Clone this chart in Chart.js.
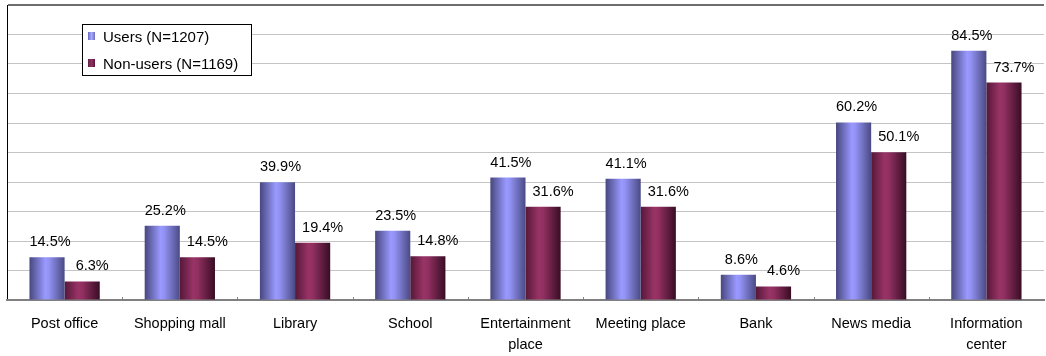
<!DOCTYPE html>
<html>
<head>
<meta charset="utf-8">
<script src="https://cdn.jsdelivr.net/npm/chart.js@4.4.1/dist/chart.umd.min.js"></script>
<style>
    body { margin: 0; background: #fff; }
    #wrap { position: relative; width: 1046px; height: 356px; }
    #legend {
        position: absolute; left: 82px; top: 24px; width: 168px; height: 50px;
        border: 1px solid #000; background: #fff;
        font-family: "Liberation Sans", Arial, sans-serif; font-size: 15px; color: #000;
    }
    #legend .row { position: absolute; left: 5px; height: 27px; line-height: 27px; white-space: nowrap; }
    #legend .mark { position: absolute; left: 0; top: 9px; width: 7px; height: 8px; }
    #legend .txt { position: absolute; left: 15px; top: 0; }
</style>
</head>
<body>
<div id="wrap">
    <canvas id="graficaUso"></canvas>
    <div id="legend"></div>
</div>
<script>
const categorias = ['Post office', 'Shopping mall', 'Library', 'School', ['Entertainment', 'place'],
    'Meeting place', 'Bank', 'News media', ['Information', 'center']];
const usuarios = [14.5, 25.2, 39.9, 23.5, 41.5, 41.1, 8.6, 60.2, 84.5];
const noUsuarios = [6.3, 14.5, 19.4, 14.8, 31.6, 31.6, 4.6, 50.1, 73.7];
const nombresSeries = ['Users (N=1207)', 'Non-users (N=1169)'];
const marcasY = [0, 10, 20, 30, 40, 50, 60, 70, 80, 90, 100];

const fuente = '"Liberation Sans", Arial, sans-serif';

// colour stops for the shaded bars, left edge -> highlight -> right edge
const degradados = [
    [[0, '#47477f'], [0.45, '#9999ff'], [0.55, '#9393f5'], [1, '#4a4a84']],
    [[0, '#551838'], [0.38, '#993366'], [0.5, '#923062'], [1, '#380d24']]
];

// shade every bar across its width
const sombreado = {
    id: 'sombreado',
    beforeDatasetDraw(grafica, args) {
        const ctx = grafica.ctx;
        const paradas = degradados[args.index];
        args.meta.data.forEach(barra => {
            const { x, width } = barra.getProps(['x', 'width'], true);
            const g = ctx.createLinearGradient(x - width / 2, 0, x + width / 2, 0);
            paradas.forEach(p => g.addColorStop(p[0], p[1]));
            barra.options = Object.assign({}, barra.options, { backgroundColor: g });
        });
    }
};

// percentage above each bar, plus the small category ticks on the axis
const etiquetas = {
    id: 'etiquetas',
    afterDatasetsDraw(grafica, args, opciones) {
        const ctx = grafica.ctx;
        ctx.save();
        ctx.font = '14.5px ' + fuente;
        ctx.fillStyle = '#000';
        ctx.textAlign = 'center';
        ctx.textBaseline = 'alphabetic';
        grafica.data.datasets.forEach((ds, i) => {
            const meta = grafica.getDatasetMeta(i);
            meta.data.forEach((barra, j) => {
                const texto = ds.data[j].toFixed(1) + '%';
                ctx.fillText(texto, barra.x + opciones.desplazamiento[i], barra.y - 11);
            });
        });

        const ejeX = grafica.scales.x;
        ctx.strokeStyle = '#808080';
        ctx.lineWidth = 1;
        for (let k = 1; k < categorias.length; k++) {
            const px = Math.round(ejeX.getPixelForValue(k - 0.5)) + 0.5;
            ctx.beginPath();
            ctx.moveTo(px, ejeX.top - 3);
            ctx.lineTo(px, ejeX.top);
            ctx.stroke();
        }
        ctx.restore();
    }
};

const grafica = new Chart(document.getElementById('graficaUso'), {
    type: 'bar',
    data: {
        labels: categorias,
        datasets: [{
            label: nombresSeries[0],
            data: usuarios,
            backgroundColor: '#9999ff',
            barPercentage: 1,
            categoryPercentage: 0.61
        }, {
            label: nombresSeries[1],
            data: noUsuarios,
            backgroundColor: '#993366',
            barPercentage: 1,
            categoryPercentage: 0.61
        }]
    },
    options: {
        responsive: true,
        maintainAspectRatio: false,
        animation: false,
        layout: {
            padding: { left: 7, top: 5, right: 2, bottom: 0 }
        },
        plugins: {
            legend: { display: false },
            tooltip: { enabled: false },
            etiquetas: { desplazamiento: [3, 10] }
        },
        scales: {
            y: {
                min: marcasY[0],
                max: marcasY[marcasY.length - 1],
                afterBuildTicks: eje => { eje.ticks = marcasY.map(v => ({ value: v })); },
                ticks: { display: false },
                grid: {
                    drawTicks: false,
                    color: c => c.tick && c.tick.value === 100 ? '#6e6e6e' : '#c4c4c4',
                    lineWidth: c => c.tick && c.tick.value === 100 ? 2 : 1
                },
                border: { color: '#000', width: 1 }
            },
            x: {
                afterFit: eje => { eje.height = 56; },
                grid: { display: false, drawTicks: false },
                border: { color: '#808080', width: 2 },
                ticks: {
                    color: '#000',
                    padding: 13,
                    maxRotation: 0,
                    autoSkip: false,
                    font: { family: fuente, size: 14.5, lineHeight: 1.47 }
                }
            }
        }
    },
    plugins: [sombreado, etiquetas]
});

// legend box drawn over the plot, built from the datasets
const leyenda = document.getElementById('legend');
const fondosLeyenda = [
    'linear-gradient(to right, #6a6ac0, #a8a8ff, #7070c0)',
    'linear-gradient(to right, #6a1f47, #8f305f, #5a173a)'
];
grafica.data.datasets.forEach((ds, i) => {
    const fila = document.createElement('div');
    fila.className = 'row';
    fila.style.top = (i === 0 ? -2 : 25) + 'px';
    fila.innerHTML = '<span class="mark" style="background:' + fondosLeyenda[i] + '"></span>' +
        '<span class="txt">' + ds.label + '</span>';
    leyenda.appendChild(fila);
});
</script>
</body>
</html>
